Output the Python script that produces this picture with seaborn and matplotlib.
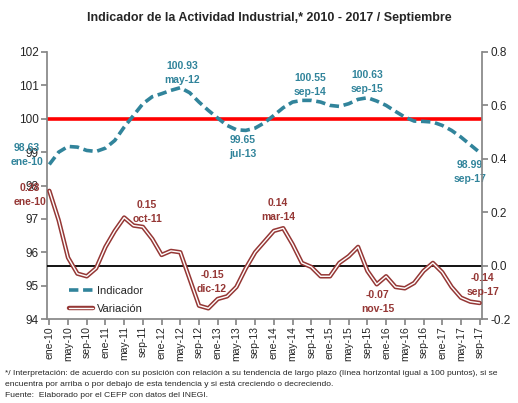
import numpy as np
import pandas as pd
import seaborn as sns
import matplotlib.pyplot as plt
import matplotlib.patheffects as pe
from matplotlib.lines import Line2D

# readings every two months, ene-10 .. sep-17
mes = np.arange(0, 93, 2)

indicador = [98.63, 99.00, 99.17, 99.15, 99.05, 99.02, 99.12, 99.35, 99.75, 100.10,
             100.45, 100.66, 100.75, 100.85, 100.93, 100.78, 100.50, 100.25, 100.02, 99.80,
             99.67, 99.65, 99.72, 99.88, 100.10, 100.33, 100.50, 100.55, 100.55, 100.50,
             100.40, 100.37, 100.45, 100.58, 100.63, 100.53, 100.40, 100.22, 100.05, 99.93,
             99.92, 99.90, 99.80, 99.65, 99.45, 99.22, 98.99]

variacion = [0.28, 0.17, 0.03, -0.03, -0.04, -0.01, 0.07, 0.13, 0.18, 0.15,
             0.145, 0.10, 0.04, 0.055, 0.05, -0.05, -0.15, -0.16, -0.125, -0.115,
             -0.08, -0.01, 0.05, 0.09, 0.13, 0.14, 0.08, 0.01, -0.005, -0.04,
             -0.04, 0.01, 0.035, 0.07, -0.02, -0.07, -0.04, -0.08, -0.085, -0.065,
             -0.02, 0.01, -0.025, -0.08, -0.12, -0.135, -0.14]

etiquetas = ['ene-10', 'may-10', 'sep-10', 'ene-11', 'may-11', 'sep-11',
             'ene-12', 'may-12', 'sep-12', 'ene-13', 'may-13', 'sep-13',
             'ene-14', 'may-14', 'sep-14', 'ene-15', 'may-15', 'sep-15',
             'ene-16', 'may-16', 'sep-16', 'ene-17', 'may-17', 'sep-17']

# (text, month, value) for the point labels
notas_ind = [('98.63\nene-10', -4.8, 98.91), ('100.93\nmay-12', 28.4, 101.36),
             ('99.65\njul-13', 41.4, 99.15), ('100.55\nsep-14', 55.7, 101.02),
             ('100.63\nsep-15', 67.9, 101.1), ('98.99\nsep-17', 89.9, 98.4)]
notas_var = [('0.28\nene-10', -4.1, 0.264), ('0.15\noct-11', 20.9, 0.2),
             ('-0.15\ndic-12', 34.8, -0.062), ('0.14\nmar-14', 48.9, 0.208),
             ('-0.07\nnov-15', 70.2, -0.135), ('-0.14\nsep-17', 92.7, -0.074)]

df = pd.DataFrame({'mes': mes, 'Indicador': indicador, 'Variacion': variacion})

sns.set_theme(style='white')
plt.rcParams['font.family'] = ['Liberation Sans', 'DejaVu Sans']

azul = '#31849b'
rojo = '#953735'
gris = '#868686'

fig = plt.figure(figsize=(5.18, 4.03), dpi=100)
ax = fig.add_axes([0.0907, 0.2084, 0.8398, 0.6626])
ax2 = ax.twinx()

ax.axhline(100, color='#ff0000', lw=2.6, zorder=1)
sns.lineplot(data=df, x='mes', y='Indicador', ax=ax, color=azul, lw=2.6, zorder=3)
ax.lines[-1].set_dashes((2.6, 1.3))

ax2.axhline(0, color='black', lw=1.3, zorder=1)
sns.lineplot(data=df, x='mes', y='Variacion', ax=ax2, color='white', lw=1.0, zorder=3,
             path_effects=[pe.Stroke(linewidth=3.2, foreground=rojo), pe.Normal()])

ax.set_xlim(-0.5, 92.5)
ax.set_ylim(94, 102)
ax2.set_ylim(-0.2, 0.8)
ax.set_yticks(range(94, 103))
ax2.set_yticks([-0.2, 0.0, 0.2, 0.4, 0.6, 0.8])
ax2.set_yticklabels(['-0.2', '0.0', '0.2', '0.4', '0.6', '0.8'])
ax.set_xticks(range(0, 93, 4))
ax.set_xticklabels(etiquetas, rotation=90)
ax.set_xlabel('')
ax.set_ylabel('')
ax2.set_ylabel('')

for a in (ax, ax2):
    for s in a.spines.values():
        s.set_visible(False)
ax.spines['left'].set_visible(True)
ax.spines['left'].set_color(gris)
ax.spines['bottom'].set_visible(True)
ax.spines['bottom'].set_color(gris)
ax2.spines['right'].set_visible(True)
ax2.spines['right'].set_color(gris)

ax.tick_params(axis='y', left=True, length=4, color=gris, labelsize=8.5, labelcolor='#262626', pad=2)
ax.tick_params(axis='x', bottom=True, length=4, color=gris, labelsize=7.5, labelcolor='#262626', pad=1)
ax2.tick_params(axis='y', right=True, length=4, color=gris, labelsize=8.5, labelcolor='#262626', pad=2)

for txt, x, y in notas_ind:
    ax.text(x, y, txt, color=azul, fontsize=7.5, fontweight='bold', ha='center', va='center',
            linespacing=1.5, zorder=5, clip_on=False)
for txt, x, y in notas_var:
    ax2.text(x, y, txt, color=rojo, fontsize=7.5, fontweight='bold', ha='center', va='center',
             linespacing=1.5, zorder=5, clip_on=False)

h_ind = Line2D([], [], color=azul, lw=2.6, dashes=(2.6, 1.3))
h_var = Line2D([], [], color='white', lw=1.0,
               path_effects=[pe.Stroke(linewidth=3.2, foreground=rojo), pe.Normal()])
ax2.legend([h_ind, h_var], ['Indicador', 'Variación'], loc='upper left',
           bbox_to_anchor=(0.04, 0.14), frameon=False, fontsize=8,
           handlelength=2.2, handletextpad=0.3, labelspacing=0.7, borderaxespad=0)

fig.text(0.52, 0.955, 'Indicador de la Actividad Industrial,* 2010 - 2017 / Septiembre',
         ha='center', va='center', fontsize=9, fontweight='bold',
         family=['Liberation Sans Narrow', 'Liberation Sans'])

pie = ['*/ Interpretación: de acuerdo con su posición con relación a su tendencia de largo plazo (línea horizontal igual a 100 puntos), si se',
       'encuentra por arriba o por debajo de esta tendencia y si está creciendo o decreciendo.',
       'Fuente:  Elaborado por el CEFP con datos del INEGI.']
for i, linea in enumerate(pie):
    fig.text(0.01, 0.074 - i * 0.028, linea, ha='left', va='center', fontsize=6.1,
             family=['Liberation Sans Narrow', 'Liberation Sans'])

fig.savefig('out.png', dpi=100)
